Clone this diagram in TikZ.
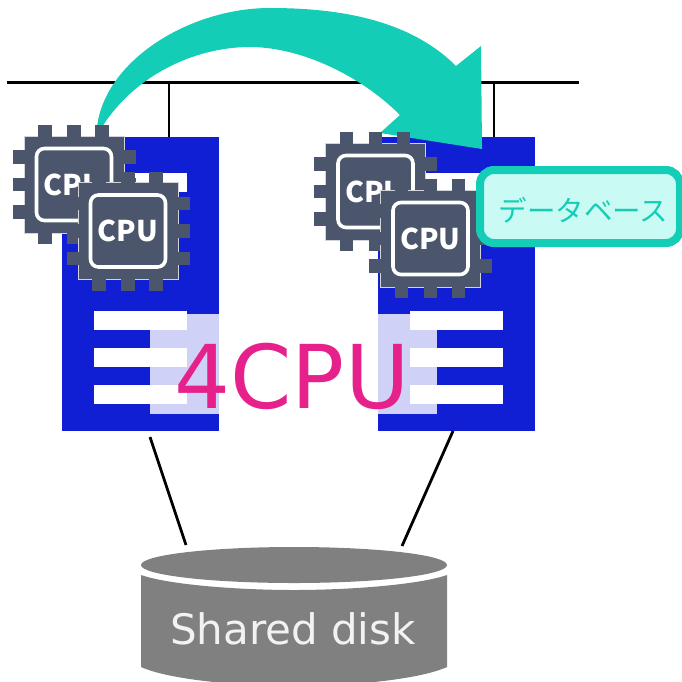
\documentclass[tikz,border=0pt]{standalone}
\usepackage{fontspec}
\setmainfont{DejaVu Sans}
\newfontfamily\kanaFont{Noto Sans CJK JP}
\definecolor{serverBlue}{HTML}{101FD3}
\definecolor{chipGray}{HTML}{4B556B}
\definecolor{arrowTeal}{HTML}{14CDB6}
\definecolor{calloutFill}{HTML}{C9FAF3}
\definecolor{labelPink}{HTML}{E6218C}
\definecolor{diskGray}{HTML}{808080}
\newcommand{\serverBars}[1]{%%
  %% The white slots of one server.
  \foreach \ytop in {173,311,348,385} {
    \fill[white] (#1,\ytop) rectangle ++(93,18.5);
  }
}
\newcommand{\cpuChip}[3]{%%
  \node[chipStyle] (#1) at (#2,#3) {};
  %% The pins run through the body and show on both sides.
  \foreach \offset in {-29,0,28} {
    \fill[chipGray] ({#2+\offset-6.75},{#3-59.5}) rectangle ({#2+\offset+6.75},{#3+59.5});
  }
  \foreach \offset in {-27.5,0,27.5} {
    \fill[chipGray] ({#2-61.5},{#3+\offset-6.75}) rectangle ({#2+61.5},{#3+\offset+6.75});
  }
  \node[chipFaceStyle] (#1Face) at (#2,#3) {CPU};
}

\begin{document}
\begin{tikzpicture}[%%
  x=1pt,y=-1pt,%%
  wireStyle/.style={-,line width=2.8pt,black},%%
  serverStyle/.style={rectangle,fill=serverBlue,inner sep=0pt,outer sep=0pt,minimum width=157pt,minimum height=294pt},%%
  chipStyle/.style={rectangle,fill=chipGray,draw=white!75!chipGray,line width=0.4pt,inner sep=0pt,minimum width=100pt,minimum height=97pt},%%
  chipFaceStyle/.style={rectangle,rounded corners=8pt,draw=white,fill=chipGray,line width=3.6pt,inner sep=0pt,minimum width=75pt,minimum height=72pt,text=white,font=\kanaFont\fontsize{28.5}{28.5}\selectfont\bfseries},%%
  calloutStyle/.style={rectangle,rounded corners=14pt,draw=arrowTeal,fill=calloutFill,line width=8pt,inner sep=0pt,minimum width=200pt,minimum height=73pt},%%
  diskStyle/.style={fill=diskGray,draw=none}
]
\useasboundingbox (0,0) rectangle (682,681);
%%
%%
%% The two servers.
\node[serverStyle] (serverA) at (140.5,284) {};
\node[serverStyle] (serverB) at (456.5,284) {};
\serverBars{94}
\serverBars{410}
%% The veil behind the label.
\fill[white,opacity=0.8] (150,314) rectangle (437,414);
%% The bus and its two drops.
\coordinate (busStart) at (7,82.5);
\coordinate (busEnd) at (579,82.5);
\coordinate (dropA) at (169,82.5);
\coordinate (dropB) at (494,82.5);
\draw[wireStyle] (busStart) -- (busEnd);
\draw[wireStyle] (dropA) -- (dropA |- serverA.north);
\draw[wireStyle] (dropB) -- (dropB |- serverB.north);
%% The links to the disk.
\coordinate (linkAStart) at (150,437);
\coordinate (linkAEnd) at (186,545);
\coordinate (linkBStart) at (453,431);
\coordinate (linkBEnd) at (402,546);
\draw[wireStyle] (linkAStart) -- (linkAEnd);
\draw[wireStyle] (linkBStart) -- (linkBEnd);
%% The big curved arrow.
\fill[arrowTeal] (97,127) .. controls (105,60) and (190,8) .. (270,8)
  .. controls (340,8) and (410,20) .. (456,66) -- (481,46) -- (482,149)
  -- (380,133) -- (400,115) .. controls (360,75) and (300,47) .. (250,47)
  .. controls (195,47) and (135,75) .. (102,127) -- cycle;
%% The chips.
\cpuChip{cpuA}{74}{184.5}
\cpuChip{cpuB}{128}{231}
\cpuChip{cpuC}{375.5}{191.5}
\cpuChip{cpuD}{430.5}{238.5}
%% The callout.
\node[calloutStyle] (callout) at (580,206.5) {};
\node[text=arrowTeal,font=\kanaFont\fontsize{28.5}{28.5}\selectfont] (calloutText) at (583.5,210) {データベース};
%% The label.
\node[text=labelPink,font=\fontsize{88}{88}\selectfont,inner sep=0pt] (cpuLabel) at (292,376) {4CPU};
%% The shared disk.
\fill[diskStyle] (141,565) arc[start angle=180,end angle=0,x radius=153,y radius=18]
  arc[start angle=0,end angle=-180,x radius=153,y radius=18] -- cycle;
\fill[diskStyle] (141,575) .. controls (170,585) and (240,590) .. (294,590)
  .. controls (348,590) and (418,585) .. (447,575) -- (447,667)
  .. controls (418,680) and (348,686) .. (294,686)
  .. controls (240,686) and (170,680) .. (141,667) -- cycle;
\node[text=white!90!diskGray,font=\fontsize{42}{42}\selectfont,inner sep=0pt] (diskLabel) at (293,629) {Shared disk};
\end{tikzpicture}
\end{document}
